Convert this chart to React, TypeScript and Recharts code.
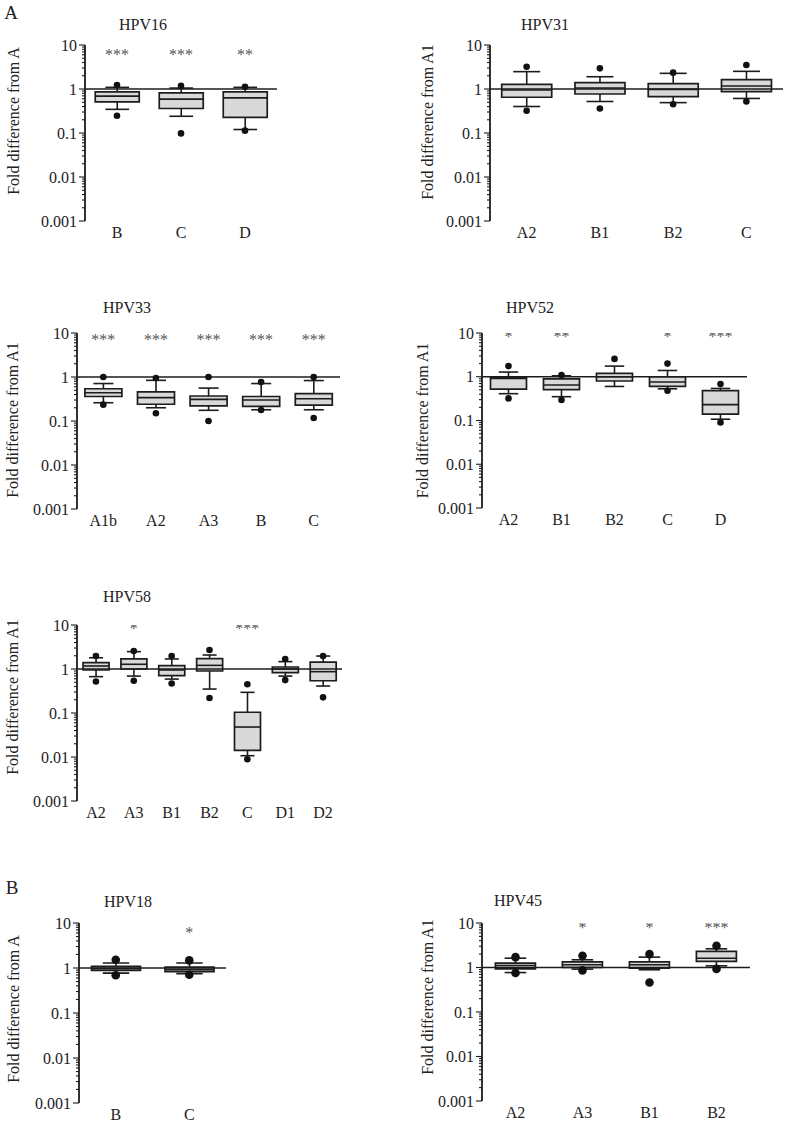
import { Bar, ComposedChart, ReferenceLine, Scatter, XAxis, YAxis } from "recharts"

// each box: [outlier low, whisker low, Q1, median, Q3, whisker high, outlier high]
const hpv16Cats = ["B", "C", "D"]
const hpv16Stats = [
  [0.247, 0.345, 0.51, 0.69, 0.86, 1.09, 1.23],
  [0.098, 0.24, 0.36, 0.59, 0.82, 1.05, 1.18],
  [0.113, 0.12, 0.227, 0.63, 0.86, 1.09, 1.12],
]
const hpv16Stars = ["***", "***", "**"]

const hpv31Cats = ["A2", "B1", "B2", "C"]
const hpv31Stats = [
  [0.32, 0.4, 0.65, 0.95, 1.28, 2.48, 3.2],
  [0.36, 0.52, 0.77, 1.05, 1.39, 1.9, 2.95],
  [0.45, 0.49, 0.67, 0.98, 1.32, 2.27, 2.35],
  [0.52, 0.61, 0.87, 1.17, 1.63, 2.52, 3.5],
]
const hpv31Stars = ["", "", "", ""]

const hpv33Cats = ["A1b", "A2", "A3", "B", "C"]
const hpv33Stats = [
  [0.235, 0.26, 0.36, 0.44, 0.54, 0.71, 1.0],
  [0.15, 0.2, 0.24, 0.34, 0.46, 0.84, 0.95],
  [0.1, 0.175, 0.22, 0.31, 0.37, 0.56, 1.0],
  [0.178, 0.18, 0.215, 0.3, 0.36, 0.71, 0.77],
  [0.117, 0.18, 0.23, 0.32, 0.42, 0.83, 1.0],
]
const hpv33Stars = ["***", "***", "***", "***", "***"]

const hpv52Cats = ["A2", "B1", "B2", "C", "D"]
const hpv52Stats = [
  [0.32, 0.41, 0.52, 0.92, 0.95, 1.28, 1.75],
  [0.295, 0.35, 0.51, 0.65, 0.89, 1.05, 1.09],
  [null, 0.6, 0.8, 1.0, 1.19, 1.75, 2.56],
  [0.48, 0.53, 0.6, 0.76, 1.0, 1.39, 2.0],
  [0.09, 0.107, 0.14, 0.23, 0.48, 0.54, 0.68],
]
const hpv52Stars = ["*", "**", "", "*", "***"]

const hpv58Cats = ["A2", "A3", "B1", "B2", "C", "D1", "D2"]
const hpv58Stats = [
  [0.52, 0.67, 0.95, 1.17, 1.39, 1.8, 1.97],
  [0.54, 0.69, 1.0, 1.28, 1.69, 2.48, 2.56],
  [0.47, 0.59, 0.71, 0.95, 1.19, 1.69, 1.97],
  [0.22, 0.35, 0.9, 1.21, 1.72, 2.08, 2.7],
  [0.0089, 0.0107, 0.0142, 0.048, 0.104, 0.295, 0.45],
  [0.56, 0.69, 0.83, 1.0, 1.11, 1.47, 1.69],
  [0.227, 0.41, 0.54, 0.87, 1.44, 1.97, 1.97],
]
const hpv58Stars = ["", "*", "", "", "***", "", ""]

const hpv18Cats = ["B", "C"]
const hpv18Stats = [
  [0.69, 0.77, 0.89, 0.97, 1.09, 1.29, 1.53],
  [0.71, 0.75, 0.83, 0.92, 1.05, 1.29, 1.48],
]
const hpv18Stars = ["", "*"]

const hpv45Cats = ["A2", "A3", "B1", "B2"]
const hpv45Stats = [
  [0.75, 0.77, 0.93, 1.11, 1.25, 1.62, 1.71],
  [0.86, 0.92, 1.0, 1.15, 1.34, 1.49, 1.83],
  [0.46, 0.89, 0.97, 1.15, 1.34, 1.71, 2.0],
  [0.93, 1.09, 1.37, 1.62, 2.3, 2.63, 3.08],
]
const hpv45Stars = ["", "*", "*", "***"]

const majorTicks = [0.001, 0.01, 0.1, 1, 10]
const minorSteps = [2, 3, 4, 5, 6, 7, 8, 9]
const allTicks = [...majorTicks, ...majorTicks.slice(0, 4).flatMap((d) => minorSteps.map((m) => m * d))]

const FONT = "'Liberation Serif', 'DejaVu Serif', serif"
const YW = 85
const MT = 14
const MR = 4
const XH = 28

type Panel = {
  title: string
  cats: string[]
  stats: (number | null)[][]
  stars: string[]
  starY: number
  yLabel: string
  left: number
  right: number
  top: number
  bottom: number
  titleX: number
  titleY: number
  labelDist: number
  labelDy: number
  gap: string
  dotR: number
}

const panels: Panel[] = [
  { title: "HPV16", cats: hpv16Cats, stats: hpv16Stats, stars: hpv16Stars, starY: 7.1, yLabel: "Fold difference from A",
    left: 85, right: 277, top: 45, bottom: 221, titleX: 143, titleY: 25, labelDist: 72, labelDy: -12, gap: "16%", dotR: 3.3 },
  { title: "HPV31", cats: hpv31Cats, stats: hpv31Stats, stars: hpv31Stars, starY: 7, yLabel: "Fold difference from A1",
    left: 490, right: 783, top: 45, bottom: 221, titleX: 545, titleY: 25, labelDist: 63, labelDy: -11, gap: "16%", dotR: 3.3 },
  { title: "HPV33", cats: hpv33Cats, stats: hpv33Stats, stars: hpv33Stars, starY: 8.1, yLabel: "Fold difference from A1",
    left: 77, right: 340, top: 333, bottom: 509, titleX: 127, titleY: 308, labelDist: 65, labelDy: -1, gap: "15%", dotR: 3.3 },
  { title: "HPV52", cats: hpv52Cats, stats: hpv52Stats, stars: hpv52Stars, starY: 9.6, yLabel: "Fold difference from A1",
    left: 482, right: 747, top: 333, bottom: 508, titleX: 530, titleY: 308, labelDist: 60, labelDy: 0, gap: "16%", dotR: 3.3 },
  { title: "HPV58", cats: hpv58Cats, stats: hpv58Stats, stars: hpv58Stars, starY: 9.6, yLabel: "Fold difference from A1",
    left: 77, right: 342, top: 625, bottom: 801, titleX: 127, titleY: 597, labelDist: 65, labelDy: -16, gap: "16%", dotR: 3.3 },
  { title: "HPV18", cats: hpv18Cats, stats: hpv18Stats, stars: hpv18Stars, starY: 6.9, yLabel: "Fold difference from A",
    left: 79, right: 226, top: 923, bottom: 1103, titleX: 128, titleY: 902, labelDist: 66, labelDy: -4, gap: "17%", dotR: 4.3 },
  { title: "HPV45", cats: hpv45Cats, stats: hpv45Stats, stars: hpv45Stars, starY: 9.2, yLabel: "Fold difference from A1",
    left: 482, right: 750, top: 923, bottom: 1101, titleX: 518, titleY: 901, labelDist: 55, labelDy: -15, gap: "20%", dotR: 4.3 },
]

function buildRows(p: Panel) {
  return p.cats.map((cat, i) => {
    const [oLo, wLo, q1, med, q3, wHi, oHi] = p.stats[i]
    return {
      cat,
      whisker: [wLo, wHi],
      box: [q1, q3],
      median: [med, med],
      outLo: oLo,
      outHi: oHi,
      starY: p.stars[i] ? p.starY : null,
      stars: p.stars[i],
    }
  })
}

const INK = "#1c1c1c"

const WhiskerShape = (props: any) => {
  const { x, y, width, height } = props
  const cx = x + width / 2
  const cap = width * 0.27
  const y0 = Math.min(y, y + height)
  const y1 = Math.max(y, y + height)
  return (
    <g stroke={INK} strokeWidth={1.6}>
      <line x1={cx} x2={cx} y1={y0} y2={y1} />
      <line x1={cx - cap} x2={cx + cap} y1={y0} y2={y0} />
      <line x1={cx - cap} x2={cx + cap} y1={y1} y2={y1} />
    </g>
  )
}

const MedianShape = (props: any) => {
  const { x, y, width } = props
  return <line x1={x} x2={x + width} y1={y} y2={y} stroke={INK} strokeWidth={1.6} />
}

const dotShape = (key: "outLo" | "outHi", r: number) => (props: any) => {
  if (props.payload?.[key] == null || !Number.isFinite(props.cy)) return <g />
  return <circle cx={props.cx} cy={props.cy} r={r} fill="#111" />
}

const StarShape = (props: any) => {
  if (!props.payload?.stars || !Number.isFinite(props.cy)) return <g />
  return (
    <text x={props.cx} y={props.cy + 8} textAnchor="middle" fontSize={16} fill="#555" fontFamily={FONT}>
      {props.payload.stars}
    </text>
  )
}

const LogTick = (props: any) => {
  const { x, y, payload } = props
  const major = majorTicks.includes(payload.value)
  return (
    <g>
      <line x1={x - (major ? 6 : 3)} x2={x} y1={y} y2={y} stroke={INK} strokeWidth={1.1} />
      {major && (
        <text x={x - 8} y={y} dy="0.35em" textAnchor="end" fontSize={16} fill="#222" fontFamily={FONT}>
          {String(payload.value)}
        </text>
      )}
    </g>
  )
}

function BoxPanel({ p }: { p: Panel }) {
  const rows = buildRows(p)
  const width = p.right - p.left + YW + MR
  const height = p.bottom - p.top + MT + XH
  return (
    <div style={{ position: "absolute", left: p.left - YW, top: p.top - MT, width, height }}>
      <ComposedChart
        width={width}
        height={height}
        data={rows}
        margin={{ top: MT, right: MR, bottom: 0, left: 0 }}
        barCategoryGap={p.gap}
      >
        <XAxis
          dataKey="cat"
          type="category"
          axisLine={false}
          tickLine={false}
          tickSize={0}
          tickMargin={6}
          height={XH}
          interval={0}
          tick={{ fill: "#222", fontSize: 16, fontFamily: FONT }}
        />
        <XAxis xAxisId="w" dataKey="cat" type="category" hide />
        <XAxis xAxisId="m" dataKey="cat" type="category" hide />
        <YAxis
          type="number"
          scale="log"
          domain={[0.001, 10]}
          allowDataOverflow
          ticks={allTicks}
          interval={0}
          width={YW}
          tickSize={0}
          tickMargin={0}
          tickLine={false}
          axisLine={{ stroke: INK, strokeWidth: 1.8 }}
          tick={<LogTick />}
          label={{
            content: (lp: any) => {
              const vb = lp.viewBox
              const cx = vb.x + vb.width - p.labelDist
              const cy = vb.y + vb.height / 2 + p.labelDy
              return (
                <text
                  x={cx}
                  y={cy}
                  transform={`rotate(-90 ${cx} ${cy})`}
                  textAnchor="middle"
                  dominantBaseline="central"
                  fontSize={16}
                  fill="#222"
                  fontFamily={FONT}
                >
                  {p.yLabel}
                </text>
              )
            },
          }}
        />
        <ReferenceLine y={1} stroke={INK} strokeWidth={1.5} />
        <Bar xAxisId="w" dataKey="whisker" shape={<WhiskerShape />} isAnimationActive={false} />
        <Bar dataKey="box" fill="#d9d9d9" stroke={INK} strokeWidth={1.7} isAnimationActive={false} />
        <Bar xAxisId="m" dataKey="median" shape={<MedianShape />} isAnimationActive={false} />
        <Scatter dataKey="outHi" shape={dotShape("outHi", p.dotR)} isAnimationActive={false} />
        <Scatter dataKey="outLo" shape={dotShape("outLo", p.dotR)} isAnimationActive={false} />
        <Scatter dataKey="starY" shape={StarShape} isAnimationActive={false} />
      </ComposedChart>
    </div>
  )
}

const textStyle = { position: "absolute" as const, transform: "translate(-50%, -50%)", fontFamily: FONT, color: "#222", whiteSpace: "nowrap" as const }

export default function App() {
  return (
    <div style={{ position: "absolute", left: 0, top: 0, width: 786, height: 1128, background: "#fff" }}>
      <div style={{ ...textStyle, left: 11, top: 13, fontSize: 19 }}>A</div>
      <div style={{ ...textStyle, left: 12, top: 888, fontSize: 19 }}>B</div>
      {panels.map((p) => (
        <div key={p.title}>
          <div style={{ ...textStyle, left: p.titleX, top: p.titleY, fontSize: 16 }}>{p.title}</div>
          <BoxPanel p={p} />
        </div>
      ))}
    </div>
  )
}
